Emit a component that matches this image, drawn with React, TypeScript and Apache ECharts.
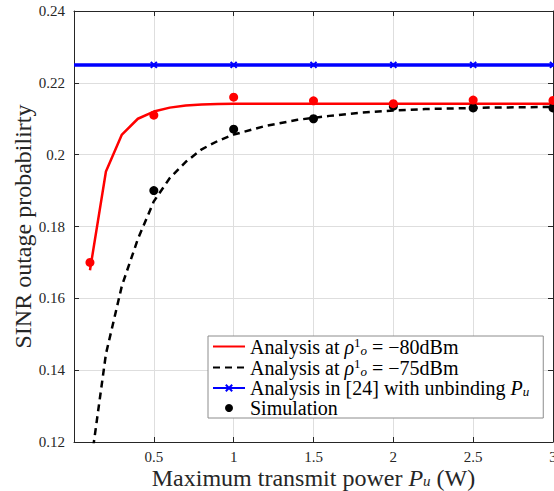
import React, { useEffect, useRef } from "react";
import * as echarts from "echarts";

const FONT = "Liberation Serif";

const xLine = [0.1, 0.2, 0.3, 0.4, 0.5, 0.6, 0.7, 0.8, 0.9, 1.0, 1.2, 1.4, 1.6, 1.8, 2.0, 2.2, 2.4, 2.6, 2.8, 3.0];
const redLine = [0.1678, 0.1953, 0.2056, 0.21, 0.212, 0.2131, 0.2137, 0.214, 0.2141, 0.2142, 0.2142, 0.2142, 0.2142, 0.2142, 0.2142, 0.2142, 0.2142, 0.2142, 0.2142, 0.2142];
const blackLine = [0.112, 0.1445, 0.1635, 0.1765, 0.187, 0.1935, 0.198, 0.2015, 0.2038, 0.2056, 0.208, 0.2097, 0.2108, 0.2117, 0.2123, 0.2127, 0.2129, 0.2131, 0.2132, 0.2133];

const xBlue = [0, 0.5, 1, 1.5, 2, 2.5, 3];
const blueLine = [0.225, 0.225, 0.225, 0.225, 0.225, 0.225, 0.225];

const xSimRed = [0.1, 0.5, 1, 1.5, 2, 2.5, 3];
const simRed = [0.17, 0.211, 0.216, 0.215, 0.2142, 0.2152, 0.2151];
const xSimBlack = [0.5, 1, 1.5, 2, 2.5, 3];
const simBlack = [0.19, 0.2071, 0.21, 0.2135, 0.213, 0.213];

const NAME_RED = "a80";
const NAME_BLACK = "a75";
const NAME_BLUE = "ref24";
const NAME_SIM = "Simulation";

const zip = (xs: number[], ys: number[]) => xs.map((x, i) => [x, ys[i]]);

const AXIS_COLOR = "#262626";
const GRID_COLOR = "#dedede";

export default function App() {
  const ref = useRef<HTMLDivElement>(null);
  useEffect(() => {
    document.body.style.margin = "0";
    const chart = echarts.init(ref.current!, null, { renderer: "svg" });
    const legendRich = {
      n: { fontFamily: FONT, fontSize: 20, color: "#000", lineHeight: 24 },
      it: { fontFamily: FONT, fontSize: 20, color: "#000", fontStyle: "italic", lineHeight: 24 },
      sup: { fontFamily: FONT, fontSize: 13, color: "#000", lineHeight: 13, padding: [0, 0, 8, 0] },
      sub: { fontFamily: FONT, fontSize: 13, color: "#000", fontStyle: "italic", lineHeight: 13, padding: [7, 0, 0, 0] },
    };
    const legendLabel: Record<string, string> = {
      [NAME_RED]: "{n|Analysis at }{it|ρ}{sup|1}{sub|o}{n| = −80dBm}",
      [NAME_BLACK]: "{n|Analysis at }{it|ρ}{sup|1}{sub|o}{n| = −75dBm}",
      [NAME_BLUE]: "{n|Analysis in [24] with unbinding }{it|P}{sub|u}",
      [NAME_SIM]: "{n|Simulation}",
    };
    const xCommon = {
      type: "value" as const,
      min: 0,
      max: 3,
      interval: 0.5,
    };
    const yCommon = {
      type: "value" as const,
      min: 0.12,
      max: 0.24,
      interval: 0.02,
    };
    chart.setOption({
      animation: false,
      backgroundColor: "#fff",
      grid: { left: 74, right: 1, top: 11, bottom: 49, containLabel: false, outerBoundsMode: "none" },
      xAxis: [
        {
          ...xCommon,
          position: "bottom",
          name: "{n|Maximum transmit power }{it|P}{sub|u}{n| (W)}",
          nameLocation: "middle",
          nameGap: 24,
          nameMoveOverlap: false,
          nameTextStyle: {
            rich: {
              n: { fontFamily: FONT, fontSize: 24, color: AXIS_COLOR, lineHeight: 23 },
              it: { fontFamily: FONT, fontSize: 24, color: AXIS_COLOR, fontStyle: "italic", lineHeight: 23 },
              sub: { fontFamily: FONT, fontSize: 15, color: AXIS_COLOR, fontStyle: "italic", lineHeight: 15, padding: [7, 0, 0, 0] },
            },
          },
          axisLine: { show: true, lineStyle: { color: AXIS_COLOR, width: 1 } },
          axisTick: { show: true, inside: true, length: 5, lineStyle: { color: AXIS_COLOR } },
          axisLabel: {
            show: true,
            margin: 7,
            fontFamily: FONT,
            fontSize: 15,
            color: AXIS_COLOR,
            showMinLabel: false,
          },
          splitLine: { show: true, lineStyle: { color: GRID_COLOR, width: 1 } },
        },
        {
          ...xCommon,
          position: "top",
          axisLine: { show: true, onZero: false, lineStyle: { color: AXIS_COLOR, width: 1 } },
          axisTick: { show: true, inside: true, length: 5, lineStyle: { color: AXIS_COLOR } },
          axisLabel: { show: false },
          splitLine: { show: false },
        },
      ],
      yAxis: [
        {
          ...yCommon,
          position: "left",
          name: "SINR outage probabilirty",
          nameLocation: "middle",
          nameGap: 39,
          nameMoveOverlap: false,
          nameTextStyle: { fontFamily: FONT, fontSize: 24, color: AXIS_COLOR },
          axisLine: { show: true, onZero: false, lineStyle: { color: AXIS_COLOR, width: 1 } },
          axisTick: { show: true, inside: true, length: 5, lineStyle: { color: AXIS_COLOR } },
          axisLabel: { show: true, margin: 9, fontFamily: FONT, fontSize: 15, color: AXIS_COLOR },
          splitLine: { show: true, lineStyle: { color: GRID_COLOR, width: 1 } },
        },
        {
          ...yCommon,
          position: "right",
          axisLine: { show: true, onZero: false, lineStyle: { color: AXIS_COLOR, width: 1 } },
          axisTick: { show: true, inside: true, length: 5, lineStyle: { color: AXIS_COLOR } },
          axisLabel: { show: false },
          splitLine: { show: false },
        },
      ],
      legend: {
        orient: "vertical",
        left: 208,
        top: 336,
        itemWidth: 32,
        itemHeight: 8,
        itemGap: 0,
        padding: [0, 14, 0, 4],
        borderColor: "#8c8c8c",
        borderWidth: 1,
        backgroundColor: "#fff",
        formatter: (name: string) => legendLabel[name] || name,
        textStyle: { rich: legendRich },
        data: [
          { name: NAME_RED, itemStyle: { opacity: 0 } },
          { name: NAME_BLACK, itemStyle: { opacity: 0 } },
          { name: NAME_BLUE },
          { name: NAME_SIM },
        ],
      },
      series: [
        {
          name: NAME_RED,
          type: "line",
          data: zip(xLine, redLine),
          symbol: "none",
          lineStyle: { color: "#ff0000", width: 2.5 },
          itemStyle: { color: "#ff0000" },
          z: 3,
        },
        {
          name: NAME_BLACK,
          type: "line",
          data: zip(xLine, blackLine),
          symbol: "none",
          smooth: false,
          clip: true,
          lineStyle: { color: "#000", width: 2.5, type: [7, 5] },
          itemStyle: { color: "#000" },
          z: 3,
        },
        {
          name: NAME_BLUE,
          type: "line",
          data: zip(xBlue, blueLine).map((p, i) => (i === 0 ? { value: p, symbol: "none" } : { value: p })),
          symbol: "path://M0,0L10,10M10,0L0,10",
          symbolSize: 6,
          showAllSymbol: true,
          lineStyle: { color: "#0000ff", width: 3.5 },
          itemStyle: { color: "#0000ff", borderColor: "#0000ff", borderWidth: 2 },
          z: 3,
        },
        {
          name: NAME_SIM,
          type: "scatter",
          data: zip(xSimBlack, simBlack),
          symbol: "circle",
          symbolSize: 9,
          itemStyle: { color: "#000", opacity: 1 },
          z: 4,
        },
        {
          name: "simRed",
          type: "scatter",
          data: zip(xSimRed, simRed),
          symbol: "circle",
          symbolSize: 9,
          itemStyle: { color: "#ff0000", opacity: 1 },
          z: 5,
        },
      ],
    });
    return () => chart.dispose();
  }, []);
  return <div ref={ref} style={{ width: 554, height: 491 }} />;
}
